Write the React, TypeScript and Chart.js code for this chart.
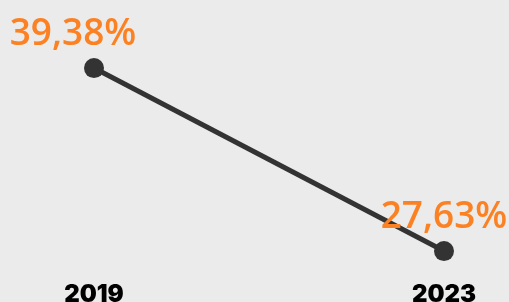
import React, { useEffect, useRef } from "react";
import { Chart, registerables } from "chart.js";

Chart.register(...registerables);

const categories = ["2019", "2023"];
const values = [39.38, 27.63];
const valueLabels = ["39,38%", "27,63%"];

const ORANGE = "#fb8123";
const DARK = "#333333";

const labelPlugin = {
  id: "valueLabels",
  afterDatasetsDraw(chart: any) {
    const ctx = chart.ctx;
    const meta = chart.getDatasetMeta(0);
    const dx = [-21, 0];
    ctx.save();
    ctx.fillStyle = ORANGE;
    ctx.font = `600 37px 'Open Sans', sans-serif`;
    ctx.textAlign = "center";
    ctx.textBaseline = "alphabetic";
    meta.data.forEach((pt: any, i: number) => {
      ctx.fillText(valueLabels[i], pt.x + dx[i], pt.y - 23);
    });
    ctx.restore();
  },
};

const bgPlugin = {
  id: "bg",
  beforeDraw(chart: any) {
    const ctx = chart.ctx;
    ctx.save();
    ctx.fillStyle = "#ebebeb";
    ctx.fillRect(0, 0, chart.width, chart.height);
    ctx.restore();
  },
};

export default function App() {
  const ref = useRef<HTMLCanvasElement>(null);
  useEffect(() => {
    document.body.style.margin = "0";
    const chart = new Chart(ref.current!, {
      type: "line",
      data: {
        labels: categories,
        datasets: [
          {
            data: values,
            borderColor: DARK,
            borderWidth: 5,
            pointRadius: 10,
            pointBackgroundColor: DARK,
            pointBorderWidth: 0,
            pointHoverRadius: 10,
            clip: false as any,
          },
        ],
      },
      options: {
        responsive: false,
        animation: false,
        maintainAspectRatio: false,
        layout: { autoPadding: false, padding: { left: 94, right: 65, top: 0, bottom: 0 } },
        plugins: { legend: { display: false }, tooltip: { enabled: false } },
        scales: {
          x: {
            grid: { display: false },
            border: { display: false },
            afterFit: (scale: any) => {
              scale.height = 38;
            },
            ticks: {
              color: "#000",
              font: { family: "Inter", size: 24, weight: "900", lineHeight: 1.1 },
              padding: 10,
              maxRotation: 0,
            },
          },
          y: {
            display: false,
            min: 26.8,
            max: 43.75,
          },
        },
      },
      plugins: [bgPlugin, labelPlugin],
    });
    return () => chart.destroy();
  }, []);
  return (
    <div style={{ width: 509, height: 302, background: "#ebebeb" }}>
      <canvas ref={ref} width={509} height={302} style={{ display: "block" }} />
    </div>
  );
}
